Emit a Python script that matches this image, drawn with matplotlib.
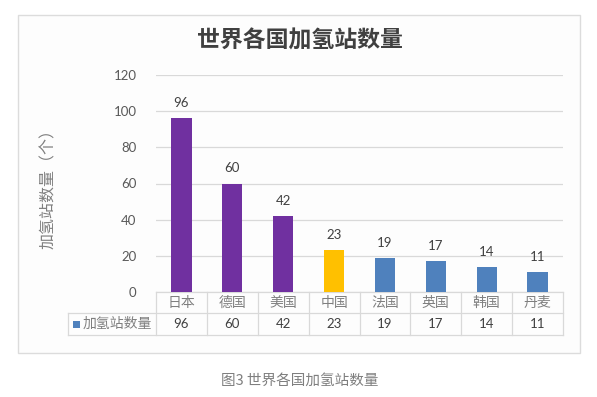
import matplotlib
matplotlib.use("Agg")
import matplotlib.pyplot as plt
from matplotlib.patches import Rectangle

plt.rcParams['font.family'] = ['Noto Sans CJK SC', 'DejaVu Sans']

categories = ['日本', '德国', '美国', '中国', '法国', '英国', '韩国', '丹麦']
values = [96, 60, 42, 23, 19, 17, 14, 11]
bar_colors = ['#7030A0', '#7030A0', '#7030A0', '#FFC000',
              '#4F81BD', '#4F81BD', '#4F81BD', '#4F81BD']
series_name = '加氢站数量'
title = '世界各国加氢站数量'
ylabel = '加氢站数量（个）'
caption = '图3 世界各国加氢站数量'
yticks = [0, 20, 40, 60, 80, 100, 120]

W, H = 597, 397
fig = plt.figure(figsize=(W / 100, H / 100), dpi=100)
fig.patch.set_facecolor('white')

def fx(px):
    return px / W

def fy(py):
    return 1 - py / H

# chart frame
frame = Rectangle((fx(18), fy(353)), (580 - 18) / W, (353 - 15) / H,
                  transform=fig.transFigure, fill=True,
                  facecolor='#fdfdfd', edgecolor='#dcdcdc', lw=1.0, zorder=-5)
fig.patches.append(frame)

x0, x1, ytop, ybot = 156, 563, 75, 292
ax = fig.add_axes([x0 / W, 1 - ybot / H, (x1 - x0) / W, (ybot - ytop) / H], zorder=2)
ax.set_facecolor('none')
xs = range(len(categories))
ax.bar(xs, values, width=0.4, color=bar_colors, zorder=3)
for x, v in zip(xs, values):
    ax.text(x, v + 5, str(v), ha='center', va='bottom', fontsize=9.5,
            color='#404040', family=['Lato', 'DejaVu Sans'])
ax.set_xlim(-0.5, len(categories) - 0.5)
ax.set_ylim(0, 120)
ax.set_yticks(yticks)
ax.set_yticklabels([str(t) for t in yticks], fontsize=9.5, color='#595959',
                   family=['Lato', 'DejaVu Sans'])
ax.tick_params(axis='y', length=0, pad=14)
ax.set_xticks([])
ax.grid(axis='y', color='#d9d9d9', lw=0.9, zorder=0)
for s in ax.spines.values():
    s.set_visible(False)

# data table
cat_w = (x1 - x0) / len(categories)
row1_top, row1_bot, row2_bot = 292, 313, 335
lab_x0 = 68
lc = '#d9d9d9'

fig.add_artist(plt.Line2D([fx(x0), fx(x1)], [fy(row1_top), fy(row1_top)], color=lc, lw=0.9))
fig.add_artist(plt.Line2D([fx(lab_x0), fx(x1)], [fy(row1_bot), fy(row1_bot)], color=lc, lw=0.9))
fig.add_artist(plt.Line2D([fx(lab_x0), fx(x1)], [fy(row2_bot), fy(row2_bot)], color=lc, lw=0.9))
fig.add_artist(plt.Line2D([fx(lab_x0), fx(lab_x0)], [fy(row1_bot), fy(row2_bot)], color=lc, lw=0.9))
for i in range(len(categories) + 1):
    xx = x0 + i * cat_w
    fig.add_artist(plt.Line2D([fx(xx), fx(xx)], [fy(row1_top), fy(row2_bot)], color=lc, lw=0.9))

for i, (c, v) in enumerate(zip(categories, values)):
    cx = x0 + (i + 0.5) * cat_w
    fig.text(fx(cx), fy((row1_top + row1_bot) / 2), c, ha='center', va='center',
             fontsize=10, color='#7f7f7f')
    fig.text(fx(cx), fy((row1_bot + row2_bot) / 2), str(v), ha='center', va='center',
             fontsize=9.5, color='#404040', family=['Lato', 'DejaVu Sans'])

fig.patches.append(Rectangle((fx(73), fy(328)), 7 / W, 7 / H, transform=fig.transFigure,
                             facecolor='#4F81BD', edgecolor='none'))
fig.text(fx(83), fy((row1_bot + row2_bot) / 2), series_name, ha='left', va='center',
         fontsize=10, color='#7f7f7f')

fig.text(fx(300), fy(41), title, ha='center', va='center', fontsize=16.5,
         fontweight='bold', color='#404040')
fig.text(fx(49), fy(185), ylabel, ha='center', va='center', rotation=90,
         fontsize=11.5, color='#7f7f7f')
fig.text(fx(300), fy(381), caption, ha='center', va='center', fontsize=10.5,
         color='#7f7f7f')

fig.savefig('out.png', dpi=100, facecolor='white')
